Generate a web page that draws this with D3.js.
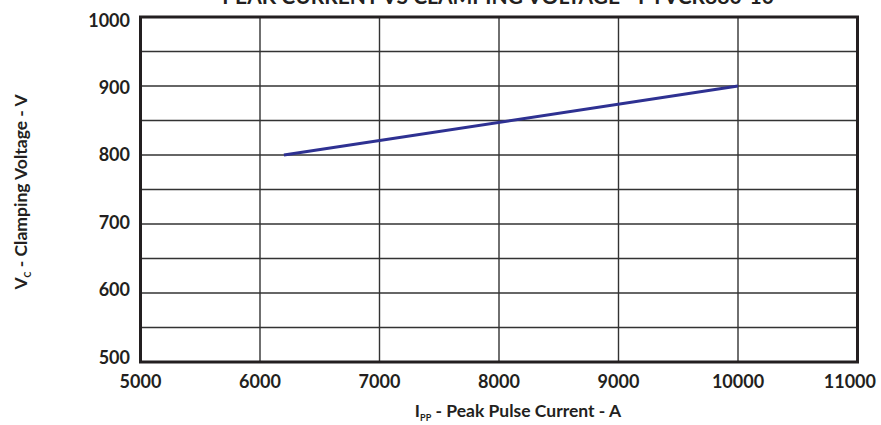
<!DOCTYPE html>
<html><head><meta charset="utf-8">
<script src="https://cdn.jsdelivr.net/npm/d3@7"></script>
<style>body{margin:0;background:#fff}svg{display:block}text{font-family:Lato,"Open Sans",sans-serif;font-weight:bold;fill:#231f20}</style>
</head><body>
<script>
const currentA = [6200, 10000];
const voltageV = [800, 900];
const xTicks = [5000, 6000, 7000, 8000, 9000, 10000, 11000];
const yTicks = [500, 600, 700, 800, 900, 1000];
const yGrid = [550, 650, 750, 850, 950];
const title = "PEAK CURRENT VS CLAMPING VOLTAGE - PTVCR880-10";

const W = 881, H = 425;
const m = {l: 140.5, r: 857.5, t: 17, b: 362};
const svg = d3.select("body").append("svg").attr("width", W).attr("height", H);
const x = d3.scaleLinear().domain([5000, 11000]).range([m.l, m.r]);
const y = d3.scaleLinear().domain([500, 1000]).range([m.b, m.t]);

// grid
svg.append("g").selectAll("line").data(xTicks.slice(1, -1)).join("line")
  .attr("x1", d => x(d)).attr("x2", d => x(d)).attr("y1", m.t).attr("y2", m.b)
  .attr("stroke", "#333").attr("stroke-width", 1.4);
svg.append("g").selectAll("line").data(yTicks.slice(1, -1).concat(yGrid)).join("line")
  .attr("y1", d => y(d)).attr("y2", d => y(d)).attr("x1", m.l).attr("x2", m.r)
  .attr("stroke", "#333").attr("stroke-width", 1.4);

// data line
svg.append("path").datum(currentA.map((c, i) => [c, voltageV[i]]))
  .attr("d", d3.line().x(d => x(d[0])).y(d => y(d[1])))
  .attr("fill", "none").attr("stroke", "#2e3192").attr("stroke-width", 3);

// border
svg.append("rect").attr("x", m.l).attr("y", m.t).attr("width", m.r - m.l).attr("height", m.b - m.t)
  .attr("fill", "none").attr("stroke", "#231f20").attr("stroke-width", 3);

// tick labels
svg.append("g").selectAll("text").data(xTicks).join("text")
  .attr("x", d => x(d)).attr("y", 388).attr("text-anchor", "middle")
  .attr("font-size", 18).text(d => d)
  .each(function () {
    const b = this.getBBox();
    const over = b.x + b.width - (W - 5);
    if (over > 0) d3.select(this).attr("x", +d3.select(this).attr("x") - over);
  });
svg.append("g").selectAll("text").data(yTicks).join("text")
  .attr("x", 130).attr("y", d => y(d) + 9.5 - (1000 - d) / 500 * 8).attr("text-anchor", "end")
  .attr("font-size", 18).text(d => d);

// axis titles
const xt = svg.append("text").attr("x", 518).attr("y", 417).attr("text-anchor", "middle").attr("font-size", 17.5);
xt.append("tspan").text("I");
xt.append("tspan").attr("font-size", 9).attr("dy", 4).text("PP");
xt.append("tspan").attr("dy", -4).text(" - Peak Pulse Current - A");

const yt = svg.append("text").attr("transform", "translate(27,192) rotate(-90)").attr("text-anchor", "middle").attr("font-size", 17.5);
yt.append("tspan").text("V");
yt.append("tspan").attr("font-size", 9).attr("dy", 4).text("C");
yt.append("tspan").attr("dy", -4).text(" - Clamping Voltage - V");

svg.append("text").attr("x", 498).attr("y", 4).attr("text-anchor", "middle").attr("font-size", 21).text(title);
</script>
</body></html>
